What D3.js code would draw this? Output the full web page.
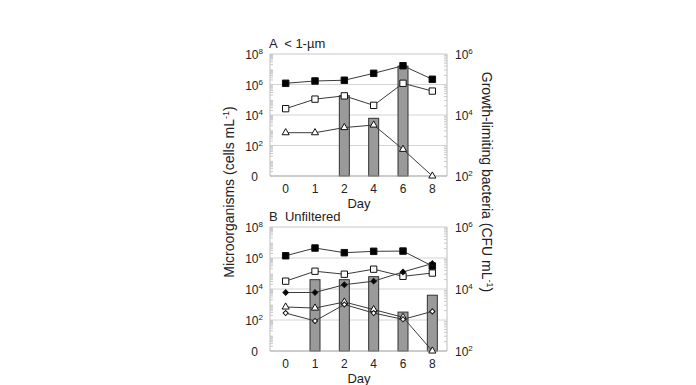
<!DOCTYPE html>
<html>
<head>
<meta charset="utf-8">
<script src="https://cdn.jsdelivr.net/npm/d3@7"></script>
<style>
  body { margin: 0; background: #fff; }
  svg { font-family: 'Liberation Sans', Arial, sans-serif; }
</style>
</head>
<body>
<div class="graphic_container"></div>
<script>
// categories (days)
const days = ['0', '1', '2', '4', '6', '8'];

// panel A  (< 1-um) -- left axis, cells per mL
const aBlackSq = [1.2e6, 1.7e6, 1.9e6, 5.4e6, 1.7e7, 2.2e6];
const aOpenSq = [2.6e4, 1.1e5, 1.8e5, 4.3e4, 1.2e6, 3.7e5];
const aTriangle = [690, 690, 1.5e3, 2.2e3, 56, 1];
// panel A bars -- right axis, CFU per mL (null = no bar)
const aBars = [null, null, 4.3e4, 7.8e3, 4e5, null];

// panel B  (unfiltered)
const bBlackSq = [1.4e6, 4.4e6, 2.2e6, 2.7e6, 2.8e6, 3e5];
const bOpenSq = [3.2e4, 1.4e5, 9e4, 1.9e5, 6.6e4, 1.07e5];
const bBlackDia = [5.9e3, 6e3, 1.9e4, 3.2e4, 1.26e5, 4.4e5];
const bTriangle = [690, 590, 1.45e3, 470, 150, 1];
const bOpenDia = [280, 87, 1e3, 280, 110, 360];
const bBars = [null, 2e4, 2e4, 2.5e4, 1.8e3, 6.3e3];

// tick labels
const leftTicks = [1, 1e2, 1e4, 1e6, 1e8];
const rightTicks = [1e2, 1e4, 1e6];

const width = 696, height = 385;
const svg = d3.select('.graphic_container')
  .append('svg')
  .attr('width', width)
  .attr('height', height);

const xLeft = 270, xRight = 447;

const x = d3.scaleBand()
  .domain(days)
  .range([271, 447]);

const supText = (sel, v) => {
  if (v === 1) { sel.text('0'); return; }
  const e = Math.round(Math.log10(v));
  sel.append('tspan').text('10');
  sel.append('tspan').text(e).attr('dy', -5).style('font-size', '8px');
}

function drawPanel(cfg) {
  const g = svg.append('g');
  const yL = d3.scaleLog().domain([1, 1e8]).range([cfg.bottom, cfg.top]);
  const yR = d3.scaleLog().domain([1e2, 1e6]).range([cfg.bottom, cfg.top]);

  // gridlines
  g.selectAll('.grid')
    .data([1e2, 1e4, 1e6])
    .enter().append('line')
    .attr('x1', xLeft).attr('x2', xRight)
    .attr('y1', d => yL(d)).attr('y2', d => yL(d))
    .style('stroke', '#d4d4d4').style('stroke-width', 1);

  // top frame
  g.append('line')
    .attr('x1', xLeft).attr('x2', xRight)
    .attr('y1', cfg.top).attr('y2', cfg.top)
    .style('stroke', '#c8c8c8');

  // side axes + minor ticks
  [[xLeft, yL, 1], [xRight, yR, -1]].forEach(([ax, sc, dir]) => {
    g.append('line')
      .attr('x1', ax).attr('x2', ax)
      .attr('y1', cfg.top).attr('y2', cfg.bottom)
      .style('stroke', '#bdbdbd');
    const [lo, hi] = sc.domain();
    const minor = [];
    for (let p = lo; p < hi; p *= 10) {
      for (let k = 2; k <= 9; k++) minor.push(p * k);
    }
    g.selectAll(null)
      .data(minor)
      .enter().append('line')
      .attr('x1', ax).attr('x2', ax + dir * 3)
      .attr('y1', d => sc(d)).attr('y2', d => sc(d))
      .style('stroke', '#c8c8c8');
  });

  // bars (right axis)
  const bw = 10;
  g.selectAll('.bar')
    .data(days.map((d, i) => ({day: d, v: cfg.bars[i]})).filter(d => d.v !== null))
    .enter().append('rect')
    .attr('x', d => x(d.day) + x.bandwidth() / 2 - bw / 2)
    .attr('y', d => yR(d.v))
    .attr('width', bw)
    .attr('height', d => cfg.bottom - yR(d.v))
    .style('fill', '#9a9a9a')
    .style('stroke', '#333')
    .style('stroke-width', 1);

  // bottom axis line
  g.append('line')
    .attr('x1', xLeft).attr('x2', xRight)
    .attr('y1', cfg.bottom).attr('y2', cfg.bottom)
    .style('stroke', '#999');

  // series lines and markers
  const cx = d => x(d) + x.bandwidth() / 2;
  cfg.series.forEach(s => {
    const pts = days.map((d, i) => [cx(d), yL(s.values[i])]);
    g.append('path')
      .attr('d', d3.line()(pts))
      .style('fill', 'none')
      .style('stroke', '#3a3a3a')
      .style('stroke-width', 1);
    g.selectAll(null)
      .data(pts)
      .enter().append('path')
      .attr('transform', d => `translate(${d[0]},${d[1]}) rotate(${s.rot || 0})`)
      .attr('d', d3.symbol().type(s.shape).size(s.size))
      .style('fill', s.fill)
      .style('stroke', '#111')
      .style('stroke-width', 1);
  });

  // left tick labels
  leftTicks.forEach(v => {
    const t = g.append('text')
      .attr('x', 258)
      .attr('y', yL(v) + 5)
      .attr('text-anchor', 'end')
      .style('font-size', '12px')
      .style('fill', '#222');
    supText(t, v);
    if (v !== 1) t.attr('x', 263);
  });

  // right tick labels
  rightTicks.forEach(v => {
    const t = g.append('text')
      .attr('x', 455)
      .attr('y', yR(v) + 5)
      .style('font-size', '12px')
      .style('fill', '#222');
    supText(t, v);
  });

  // x tick labels
  g.selectAll(null)
    .data(days)
    .enter().append('text')
    .attr('x', d => cx(d))
    .attr('y', cfg.bottom + 17)
    .attr('text-anchor', 'middle')
    .style('font-size', '12px')
    .style('fill', '#222')
    .text(d => d);

  g.append('text')
    .attr('x', 359)
    .attr('y', cfg.bottom + 32)
    .attr('text-anchor', 'middle')
    .style('font-size', '13px')
    .style('fill', '#222')
    .text('Day');

  g.append('text')
    .attr('x', 269)
    .attr('y', cfg.top - 6)
    .style('font-size', '13px')
    .style('fill', '#222')
    .style('white-space', 'pre')
    .text(cfg.title);
}

drawPanel({
  top: 54, bottom: 176, title: 'A  < 1-µm', bars: aBars,
  series: [
    {values: aBlackSq, shape: d3.symbolSquare, size: 42, fill: '#000'},
    {values: aOpenSq, shape: d3.symbolSquare, size: 40, fill: '#fff'},
    {values: aTriangle, shape: d3.symbolTriangle, size: 22, fill: '#fff'}
  ]
});

drawPanel({
  top: 227, bottom: 351, title: 'B  Unfiltered', bars: bBars,
  series: [
    {values: bBlackSq, shape: d3.symbolSquare, size: 42, fill: '#000'},
    {values: bOpenSq, shape: d3.symbolSquare, size: 40, fill: '#fff'},
    {values: bTriangle, shape: d3.symbolTriangle, size: 22, fill: '#fff'},
    {values: bOpenDia, shape: d3.symbolSquare, size: 13, fill: '#fff', rot: 45},
    {values: bBlackDia, shape: d3.symbolSquare, size: 15, fill: '#000', rot: 45}
  ]
});

// axis titles
const lt = svg.append('text')
  .attr('transform', 'translate(234,192) rotate(-90)')
  .attr('text-anchor', 'middle')
  .style('font-size', '14px')
  .style('fill', '#222');
lt.append('tspan').text('Microorganisms (cells mL');
lt.append('tspan').text('-1').attr('dy', -5).style('font-size', '9px');
lt.append('tspan').text(')').attr('dy', 5);

const rt = svg.append('text')
  .attr('transform', 'translate(482,182) rotate(90)')
  .attr('text-anchor', 'middle')
  .style('font-size', '14px')
  .style('fill', '#222');
rt.append('tspan').text('Growth-limiting bacteria (CFU mL');
rt.append('tspan').text('-1').attr('dy', -5).style('font-size', '9px');
rt.append('tspan').text(')').attr('dy', 5);
</script>
</body>
</html>
